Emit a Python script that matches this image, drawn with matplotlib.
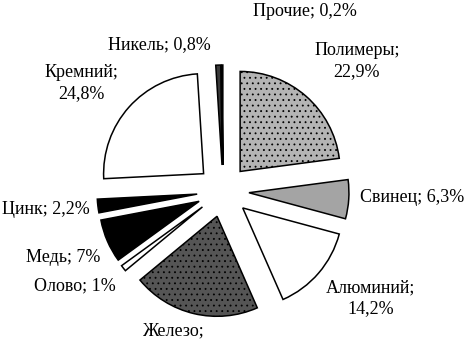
import numpy as np
import matplotlib
matplotlib.use('Agg')
import matplotlib.pyplot as plt

# Data: share of elements, %
names = ['Полимеры', 'Свинец', 'Алюминий', 'Железо', 'Олово',
         'Медь', 'Цинк', 'Кремний', 'Никель', 'Прочие']
values = [22.9, 6.3, 14.2, 20.6, 1.0, 7.0, 2.2, 24.8, 0.8, 0.2]

# Styles of the wedges (b/w print look)
colors = ['#b4b4b4', '#a4a4a4', 'white', '#555555', 'white',
          'black', 'black', 'white', '#3a3a3a', 'black']
hatches = ['...', '', '', '...', '', '', '', '', '', '']

# Label placement in pixels (x, y from top) and text layout
label_pos = [(357, 61), (412, 198), (371, 298), (174, 331), (75, 286),
             (63, 257), (46, 210), (81, 83), (159, 45), (305, 12)]
# 'both' = name and value on two lines, 'one' = one line, 'name' = value cut off in the source
label_kind = ['both', 'one', 'both', 'name', 'one', 'one', 'one', 'both', 'one', 'one']

W, H = 468, 340
CX, CY, R = 223, 191, 100

plt.rcParams['font.family'] = ['Liberation Serif', 'DejaVu Serif']
plt.rcParams['hatch.linewidth'] = 0.6

fig = plt.figure(figsize=(W / 100, H / 100), dpi=100)
ax = fig.add_axes([0, 0, 1, 1])

wedges, _ = ax.pie(values, startangle=90, counterclock=False,
                   center=(CX, H - CY), radius=R,
                   explode=[26] * len(values), colors=colors,
                   wedgeprops=dict(edgecolor='black', linewidth=1.1))
for w, h in zip(wedges, hatches):
    if h:
        w.set_hatch(h)

def fmt(v):
    s = ('%.1f' % v).replace('.', ',')
    if s.endswith(',0'):
        s = s[:-2]
    return s + '%'

for name, v, (x, y), kind in zip(names, values, label_pos, label_kind):
    if kind == 'both':
        txt = name + ';\n' + fmt(v)
    elif kind == 'one':
        txt = name + '; ' + fmt(v)
    else:
        txt = name + ';'
    ax.text(x, H - y, txt, ha='center', va='center',
            fontsize=13, linespacing=1.3, multialignment='center')

ax.set_xlim(0, W)
ax.set_ylim(0, H)
ax.set_aspect('equal')
ax.axis('off')

fig.savefig('out.png', dpi=100, facecolor='white')
